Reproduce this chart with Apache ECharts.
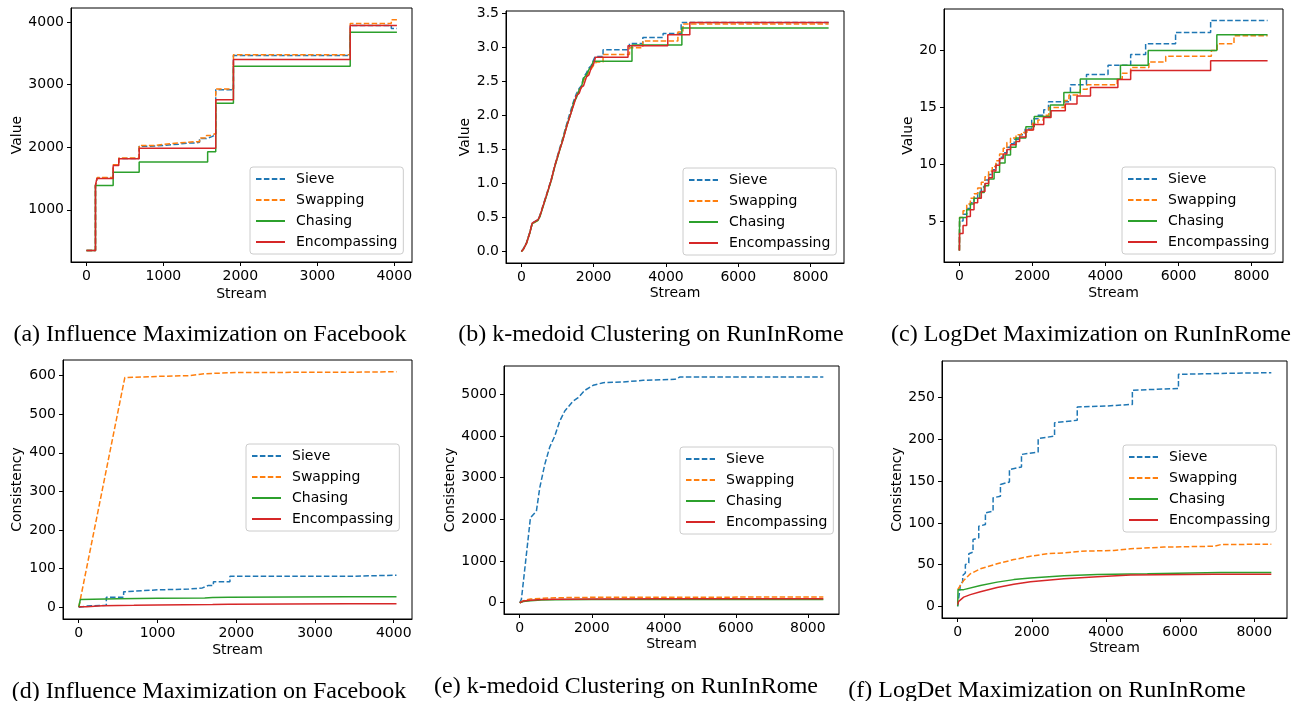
<!DOCTYPE html>
<html>
<head>
<meta charset="utf-8">
<script src="https://cdn.jsdelivr.net/npm/echarts@6/dist/echarts.min.js"></script>
<style>
html,body{margin:0;padding:0;background:#fff;}
#chart{width:1294px;height:701px;}
</style>
</head>
<body>
<div id="chart"></div>
<script>
// ---------- names / labels ----------
const SERIES_NAMES = ['Sieve', 'Swapping', 'Chasing', 'Encompassing'];
const CAPTIONS = [
  '(a) Influence Maximization on Facebook',
  '(b) k-medoid Clustering on RunInRome',
  '(c) LogDet Maximization on RunInRome',
  '(d) Influence Maximization on Facebook',
  '(e) k-medoid Clustering on RunInRome',
  '(f) LogDet Maximization on RunInRome'
];
const Y_NAMES = ['Value', 'Value', 'Value', 'Consistency', 'Consistency', 'Consistency'];
const X_NAME = 'Stream';

// ---------- tick values ----------
const X_TICKS_4K = [0, 1000, 2000, 3000, 4000];
const X_TICKS_8K = [0, 2000, 4000, 6000, 8000];
const Y_TICKS_A = [1000, 2000, 3000, 4000];
const Y_TICKS_B = [0, 0.5, 1.0, 1.5, 2.0, 2.5, 3.0, 3.5];
const Y_TICKS_C = [5, 10, 15, 20];
const Y_TICKS_D = [0, 100, 200, 300, 400, 500, 600];
const Y_TICKS_E = [0, 1000, 2000, 3000, 4000, 5000];
const Y_TICKS_F = [0, 50, 100, 150, 200, 250];

// ---------- (a) Influence Maximization, value ----------
const A_SIEVE = [[0,350],[117,1390],[140,1510],[347,1715],[420,1820],[685,2015],[800,2030],[1000,2050],[1200,2065],[1300,2070],[1420,2080],[1470,2140],[1560,2170],[1630,2200],[1680,2920],[1910,3465],[3428,3945],[3962,3899],[4035,3899]];
const A_SWAP  = [[0,350],[117,1390],[140,1515],[347,1720],[420,1830],[685,2030],[900,2060],[1100,2090],[1420,2090],[1470,2150],[1560,2190],[1620,2220],[1680,2930],[1910,3480],[3428,3979],[3962,4040],[4035,4040]];
const A_CHASE = [[0,350],[117,1390],[347,1600],[685,1765],[1575,1930],[1680,2705],[1910,3295],[3428,3840],[4035,3840]];
const A_ENC   = [[0,350],[117,1390],[135,1500],[347,1710],[420,1815],[685,1985],[1680,2760],[1910,3402],[3428,3947],[4035,3947]];

// ---------- (b) k-medoid, value ----------
const B_SIEVE = [[0,0],[50,0.04],[140,0.13],[230,0.28],[300,0.42],[460,0.47],[510,0.53],[690,0.83],[830,1.07],[920,1.26],[1060,1.52],[1150,1.68],[1260,1.89],[1380,2.10],[1450,2.22],[1520,2.32],[1600,2.40],[1660,2.44],[1720,2.56],[1800,2.63],[1870,2.70],[1935,2.74],[1990,2.81],[2040,2.87],[2260,2.87],[2260,2.97],[2990,2.97],[2990,3.06],[3360,3.06],[3360,3.15],[3920,3.15],[3920,3.21],[4420,3.21],[4420,3.37],[8500,3.37]];
const B_SWAP  = [[0,0],[50,0.03],[140,0.12],[230,0.27],[300,0.41],[460,0.46],[510,0.52],[690,0.82],[830,1.06],[920,1.25],[1060,1.50],[1150,1.66],[1260,1.86],[1380,2.06],[1450,2.18],[1520,2.28],[1600,2.38],[1660,2.41],[1720,2.52],[1800,2.58],[1870,2.64],[1935,2.69],[2000,2.74],[2080,2.79],[2260,2.79],[2260,2.90],[2990,2.90],[2990,3.00],[3360,3.00],[3360,3.10],[4330,3.10],[4330,3.23],[4470,3.23],[4470,3.35],[8500,3.35]];
const B_CHASE = [[0,0],[50,0.03],[140,0.12],[230,0.27],[300,0.41],[460,0.46],[510,0.51],[690,0.81],[830,1.05],[920,1.24],[1060,1.49],[1150,1.65],[1260,1.86],[1380,2.05],[1450,2.20],[1520,2.26],[1600,2.38],[1660,2.42],[1720,2.55],[1800,2.60],[1870,2.68],[1935,2.72],[1990,2.80],[3060,2.80],[3060,3.04],[4440,3.04],[4440,3.29],[8500,3.29]];
const B_ENC   = [[0,0],[50,0.03],[140,0.12],[230,0.27],[300,0.42],[460,0.47],[510,0.52],[690,0.82],[830,1.06],[920,1.25],[1060,1.50],[1150,1.64],[1260,1.85],[1380,2.05],[1450,2.16],[1520,2.29],[1600,2.33],[1660,2.42],[1720,2.44],[1800,2.57],[1870,2.60],[1935,2.71],[2000,2.76],[2050,2.86],[2950,2.86],[2950,3.03],[4050,3.03],[4050,3.19],[4660,3.19],[4660,3.37],[8500,3.37]];

// ---------- (c) LogDet, value ----------
const C_SIEVE = [[0,2.4],[5,5.0],[100,5.6],[200,6.1],[300,6.6],[400,7.1],[500,7.6],[600,8.0],[700,8.6],[800,9.1],[900,9.5],[1000,10.0],[1100,10.6],[1200,11.0],[1300,11.5],[1400,11.8],[1500,12.2],[1650,12.6],[1800,13.1],[1980,14.0],[2150,14.3],[2310,14.8],[2440,15.5],[3040,17.0],[3480,17.9],[4070,18.7],[4690,19.65],[5100,20.6],[5920,21.6],[6880,22.65],[8440,22.65]];
const C_SWAP  = [[0,2.4],[5,5.3],[100,5.9],[200,6.5],[300,7.0],[400,7.4],[500,7.9],[600,8.4],[700,8.9],[800,9.4],[900,9.8],[1000,10.3],[1100,10.9],[1200,11.4],[1300,11.9],[1400,12.3],[1550,12.6],[1700,12.8],[1850,13.0],[2000,13.6],[2150,13.9],[2300,14.3],[2450,15.0],[2880,15.6],[3000,16.1],[3310,16.6],[3500,17.0],[4320,17.5],[4460,18.0],[4690,18.5],[5190,19.0],[5650,19.5],[6900,20.0],[7060,20.6],[7520,21.3],[8440,21.3]];
const C_CHASE = [[0,2.4],[5,5.3],[140,5.3],[200,6.0],[300,6.5],[400,7.0],[560,7.5],[680,8.1],[800,8.7],[950,9.3],[1100,10.1],[1250,10.8],[1400,11.5],[1550,12.3],[1820,13.3],[2050,14.2],[2490,15.2],[2860,16.3],[3310,17.5],[4410,18.7],[5170,20.0],[7050,21.4],[8440,21.4]];
const C_ENC   = [[0,2.4],[5,3.9],[100,4.6],[200,5.4],[300,6.0],[400,6.6],[500,7.0],[600,7.6],[700,8.3],[800,8.8],[900,9.4],[1000,9.9],[1100,10.5],[1200,10.9],[1300,11.3],[1400,11.7],[1550,12.0],[1650,12.4],[1820,13.0],[2030,13.5],[2310,14.1],[2510,14.7],[2900,15.3],[3220,16.0],[3590,16.75],[4340,17.45],[4690,18.25],[6880,19.1],[8440,19.1]];

// ---------- (d) Influence Maximization, consistency ----------
const D_SIEVE = [[0,0],[100,3],[350,5],[350,26],[570,26],[570,40],[800,43],[1000,45],[1400,47],[1570,50],[1640,56],[1710,56],[1710,66],[1920,66],[1920,80],[3430,80],[3430,83],[4035,83]];
const D_SWAP  = [[0,0],[585,595],[1000,598],[1400,600],[1600,605],[2000,608],[3500,609],[4035,610]];
const D_CHASE = [[0,0],[20,20],[500,22],[1000,23],[1600,24],[1700,25],[1900,26],[3430,27],[4035,27]];
const D_ENC   = [[0,1],[100,1],[300,4],[700,5],[1000,6],[1700,7],[1900,8],[3430,9],[4035,9]];

// ---------- (e) k-medoid, consistency ----------
const E_SIEVE = [[0,0],[46,80],[185,1160],[297,2040],[463,2200],[556,2760],[695,3320],[834,3736],[973,4000],[1112,4360],[1251,4600],[1483,4840],[1622,4920],[1807,5096],[2039,5216],[2317,5280],[2873,5296],[3429,5336],[4309,5360],[4448,5416],[8430,5416]];
const E_SWAP  = [[0,0],[100,50],[300,90],[600,105],[1000,120],[2000,130],[4000,134],[8430,136]];
const E_CHASE = [[0,0],[100,30],[300,50],[600,65],[1000,73],[2000,78],[4000,80],[8430,80]];
const E_ENC   = [[0,0],[100,40],[300,60],[600,75],[1000,85],[2000,90],[4000,93],[8430,95]];

// ---------- (f) LogDet, consistency ----------
const F_SIEVE = [[0,0],[72,25],[72,27],[135,30],[135,37],[207,40],[207,50],[300,52],[300,63],[414,65],[414,80],[568,82],[568,96],[748,98],[748,112],[955,114],[955,130],[1153,132],[1153,146],[1396,149],[1396,164],[1721,167],[1721,182],[2171,185],[2171,201],[2613,204],[2613,220],[3225,223],[3225,239],[4000,240],[4712,242],[4712,259],[5955,261],[5955,278],[7000,279],[8460,280]];
const F_SWAP  = [[0,20],[162,31],[342,39],[613,45],[1063,51],[1514,56],[1964,60],[2414,63],[2865,64],[3315,66],[4216,67],[4667,69],[5568,71],[6919,72],[7099,74],[8460,74.5]];
const F_CHASE = [[0,0],[10,20],[162,20],[613,25],[1063,29],[1514,32],[1964,34],[2865,36.5],[3766,38],[5117,39],[7099,40.5],[8460,40.5]];
const F_ENC   = [[0,2],[27,6],[162,11],[342,14],[613,17.5],[1063,22.5],[1514,26.5],[1964,29.5],[2865,33],[3766,35.5],[4667,37.5],[6919,38.3],[8460,38.3]];

// ---------- styling / layout (not data) ----------
const COLORS = ['#1f77b4', '#ff7f0e', '#2ca02c', '#d62728'];
const DASHED = [true, true, false, false];
const PANELS = [
  {data:[A_SIEVE,A_SWAP,A_CHASE,A_ENC], step:['end','end','end','end'],
   grid:[71,8,341,254], x:[-201,4231], y:[166,4226], xt:X_TICKS_4K, yt:Y_TICKS_A, yfmt:0,
   yGap:46, xGap:25, legend:[250,167], caption:[210,335]},
  {data:[B_SIEVE,B_SWAP,B_CHASE,B_ENC], step:[false,false,false,false],
   grid:[506,11,338,252], x:[-425,8925], y:[-0.168,3.54], xt:X_TICKS_8K, yt:Y_TICKS_B, yfmt:1,
   yGap:33, xGap:23, legend:[683,168], caption:[651,335]},
  {data:[C_SIEVE,C_SWAP,C_CHASE,C_ENC], step:['end','end','end','end'],
   grid:[944,9,339,253], x:[-422,8862], y:[1.39,23.66], xt:X_TICKS_8K, yt:Y_TICKS_C, yfmt:0,
   yGap:29, xGap:24, legend:[1122,167], caption:[1091,335]},
  {data:[D_SIEVE,D_SWAP,D_CHASE,D_ENC], step:[false,false,false,false],
   grid:[63,360,349,259], x:[-200,4232], y:[-30.5,640.5], xt:X_TICKS_4K, yt:Y_TICKS_D, yfmt:0,
   yGap:39, xGap:24, legend:[246,444], caption:[209,692]},
  {data:[E_SIEVE,E_SWAP,E_CHASE,E_ENC], step:[false,false,false,false],
   grid:[504,366,335,248], x:[-437,8865], y:[-270,5680], xt:X_TICKS_8K, yt:Y_TICKS_E, yfmt:0,
   yGap:45, xGap:23, legend:[680,447], caption:[626,687]},
  {data:[F_SIEVE,F_SWAP,F_CHASE,F_ENC], step:[false,false,false,false],
   grid:[942,361,345,257], x:[-423,8883], y:[-14,294], xt:X_TICKS_8K, yt:Y_TICKS_F, yfmt:0,
   yGap:38, xGap:23, legend:[1123,445], caption:[1047,691]}
];

const FONT = 'DejaVu Sans';
const grids = [], xAxes = [], yAxes = [], series = [], legends = [], graphics = [];

PANELS.forEach((p, i) => {
  grids.push({left:p.grid[0], top:p.grid[1], width:p.grid[2], height:p.grid[3],
    show:true, borderColor:'#000', borderWidth:1, backgroundColor:'transparent', containLabel:false});
  xAxes.push({type:'value', gridIndex:i, min:p.x[0], max:p.x[1],
    name:X_NAME, nameLocation:'middle', nameGap:p.xGap,
    nameTextStyle:{fontFamily:FONT, fontSize:14, color:'#000'},
    axisLine:{show:true, onZero:false, lineStyle:{color:'#000', width:1}},
    axisTick:{show:true, length:4, lineStyle:{color:'#000'}, customValues:p.xt},
    axisLabel:{fontFamily:FONT, fontSize:14, color:'#000', margin:7, customValues:p.xt,
      formatter:(v)=>String(v)},
    splitLine:{show:false}});
  yAxes.push({type:'value', gridIndex:i, min:p.y[0], max:p.y[1],
    name:Y_NAMES[i], nameLocation:'middle', nameGap:p.yGap,
    nameTextStyle:{fontFamily:FONT, fontSize:14, color:'#000'},
    axisLine:{show:true, onZero:false, lineStyle:{color:'#000', width:1}},
    axisTick:{show:true, length:4, lineStyle:{color:'#000'}, customValues:p.yt},
    axisLabel:{fontFamily:FONT, fontSize:14, color:'#000', margin:7, customValues:p.yt,
      formatter:(v)=>p.yfmt ? Number(v).toFixed(p.yfmt) : String(Math.round(v))},
    splitLine:{show:false}});
  p.data.forEach((d, k) => {
    series.push({type:'line', name:SERIES_NAMES[k], xAxisIndex:i, yAxisIndex:i,
      data:d, step:p.step[k], symbol:'none', showSymbol:false, silent:true,
      lineStyle:{color:COLORS[k], width:1.5, type:DASHED[k] ? [5.5, 2.4] : 'solid'},
      itemStyle:{color:COLORS[k]}, z:2 + k});
  });
  legends.push({left:p.legend[0], top:p.legend[1], orient:'vertical', selectedMode:false,
    data:SERIES_NAMES.slice(),
    itemWidth:29, itemHeight:14, itemGap:7, padding:[5,6,5,5],
    itemStyle:{opacity:0, borderWidth:0},
    borderColor:'#cccccc', borderWidth:1, borderRadius:3, backgroundColor:'rgba(255,255,255,0.85)',
    textStyle:{fontFamily:FONT, fontSize:14, color:'#000', lineHeight:14, padding:[0,0,0,6]}});
  graphics.push({type:'text', x:p.caption[0], y:p.caption[1], silent:true,
    style:{text:CAPTIONS[i], font:'24px "Liberation Serif"', fill:'#000',
      textAlign:'center', textVerticalAlign:'middle', align:'center', verticalAlign:'middle'}});
});

const chart = echarts.init(document.getElementById('chart'), null, {renderer:'canvas'});
chart.setOption({
  animation:false,
  backgroundColor:'#fff',
  grid:grids, xAxis:xAxes, yAxis:yAxes, series:series, legend:legends, graphic:graphics
});
</script>
</body>
</html>
